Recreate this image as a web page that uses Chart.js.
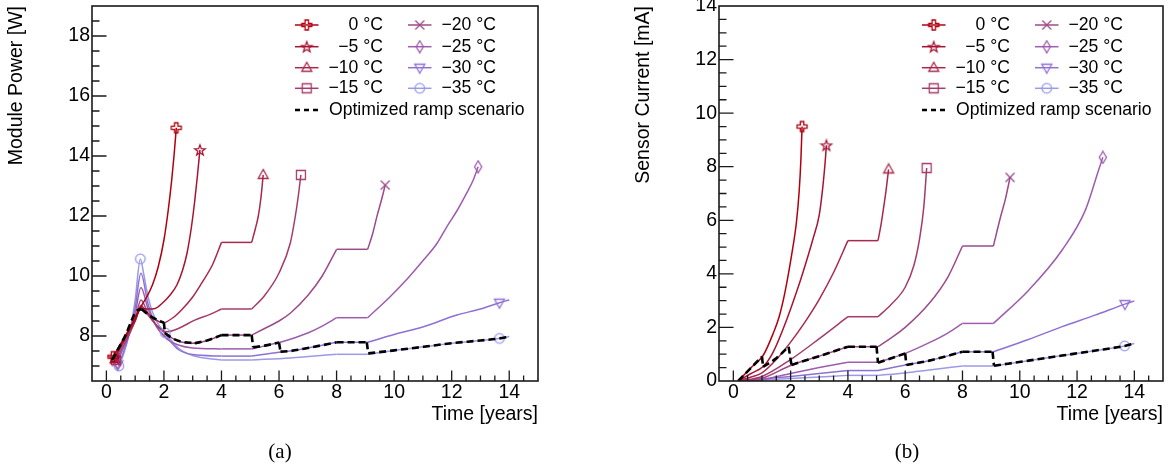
<!DOCTYPE html>
<html><head><meta charset="utf-8">
<script src="https://cdn.jsdelivr.net/npm/chart.js@4.4.1/dist/chart.umd.min.js"></script>
<style>
html,body{margin:0;padding:0;background:#fff;}
body{width:1169px;height:467px;position:relative;overflow:hidden;}
canvas{position:absolute;top:0;}
#cA{left:0;} #cB{left:627px;}
</style></head><body>
<canvas id="cA" width="590" height="467"></canvas>
<canvas id="cB" width="542" height="467"></canvas>
<script>
// ---------- categories & tick labels ----------
const tempLabels = ['0 °C','−5 °C','−10 °C','−15 °C','−20 °C','−25 °C','−30 °C','−35 °C'];
const rampLabel = 'Optimized ramp scenario';
const timeTicks = [0,2,4,6,8,10,12,14];
const powerTicks = [8,10,12,14,16,18];
const currentTicks = [0,2,4,6,8,10,12,14];

// ---------- (a) Module power [W] vs time [years] ----------
const powT0 = [0.23,0.5,0.8,1.0,1.2,1.4,1.6,1.8,2.0,2.15,2.27,2.35,2.43];
const powV0 = [7.31,7.75,8.25,8.6,8.98,9.3,9.7,10.3,11.2,12.2,13.2,14.0,14.94];
const powT5 = [0.28,0.5,0.8,1.0,1.2,1.45,1.7,1.95,2.2,2.45,2.65,2.8,2.95,3.07,3.17,3.25];
const powV5 = [7.27,7.7,8.2,8.55,8.92,8.9,8.92,9.1,9.35,9.7,10.2,10.75,11.6,12.5,13.4,14.2];
const powT10 = [0.3,0.5,0.8,1.0,1.2,1.45,1.7,1.97,2.3,2.61,3.0,3.31,3.7,4.0,5.05,5.17,5.28,5.37,5.45];
const powV10 = [7.23,7.65,8.15,8.5,8.95,8.75,8.55,8.44,8.6,8.87,9.3,9.76,10.4,11.12,11.12,11.55,12.0,12.6,13.37];
const powT15 = [0.33,0.5,0.8,1.0,1.2,1.45,1.75,2.09,2.5,3.07,3.6,4.0,5.05,5.5,6.0,6.39,6.55,6.66,6.76];
const powV15 = [7.2,7.6,8.1,8.5,9.02,8.7,8.35,8.14,8.25,8.53,8.72,8.9,8.9,9.35,10.1,11.09,11.9,12.6,13.37];
const powT20 = [0.35,0.5,0.8,1.0,1.2,1.45,1.75,2.1,2.3,2.6,3.07,3.5,4.0,5.05,5.5,6.0,6.39,7.0,7.5,8.0,9.08,9.25,9.4,9.55,9.69];
const powV20 = [7.15,7.5,8.05,8.55,9.2,8.75,8.35,8.05,7.92,7.8,7.76,7.85,8.03,8.03,8.25,8.5,8.76,9.35,10.0,10.89,10.89,11.4,11.98,12.5,13.03];
const powT25 = [0.38,0.5,0.8,1.0,1.2,1.45,1.75,2.1,2.5,3.0,4.0,5.05,6.0,6.39,7.0,7.5,8.0,9.08,9.86,10.5,11.02,11.5,11.83,12.2,12.52,12.75,12.92];
const powV25 = [7.1,7.4,8.1,8.75,9.62,8.9,8.3,7.9,7.7,7.6,7.57,7.57,7.78,7.89,8.1,8.33,8.61,8.61,9.31,9.95,10.53,11.1,11.64,12.2,12.76,13.2,13.64];
const powT30 = [0.4,0.55,0.8,1.0,1.2,1.45,1.75,2.1,2.5,3.0,4.0,5.05,6.0,6.39,7.0,8.0,9.08,10.0,11.02,12.18,13.0,13.66,14.0];
const powV30 = [7.05,7.35,8.1,8.95,10.09,9.05,8.3,7.95,7.55,7.38,7.33,7.33,7.46,7.5,7.6,7.79,7.79,8.05,8.31,8.7,8.9,9.11,9.2];
const powT35 = [0.43,0.6,0.8,1.0,1.18,1.3,1.45,1.6,1.8,2.05,2.5,3.0,4.0,5.05,6.39,8.0,9.08,10.0,11.02,12.0,13.0,13.66,14.0];
const powV35 = [7.0,7.4,8.1,9.2,10.57,10.05,9.3,8.8,8.4,8.1,7.6,7.35,7.2,7.2,7.27,7.39,7.39,7.52,7.64,7.76,7.85,7.92,7.98];
const rampPowT = [0.2,0.64,1.1,1.22,1.57,1.91,2.0,2.03,2.3,2.61,3.07,3.5,4.0,5.05,5.1,5.5,6.0,6.05,6.39,7.0,8.0,9.05,9.1,10.0,11.02,12.0,13.0,13.66,14.0];
const rampPowV = [7.2,7.98,8.87,8.89,8.64,8.48,8.45,8.1,7.92,7.81,7.76,7.85,8.03,8.03,7.62,7.68,7.78,7.48,7.5,7.6,7.79,7.79,7.42,7.52,7.64,7.76,7.85,7.92,7.98];

// ---------- (b) Sensor current [mA] vs time [years] ----------
const curT0 = [0.17,0.6,1.05,1.4,1.6,1.8,2.05,2.2,2.3,2.36,2.4];
const curV0 = [0,0.48,0.97,1.8,2.4,3.3,4.8,5.9,7.1,8.3,9.5];
const curT5 = [0.17,0.6,1.05,1.4,1.86,2.2,2.43,2.78,3.0,3.12,3.2,3.25];
const curV5 = [0,0.27,0.55,1.1,2.28,3.3,4.05,5.3,6.2,7.2,8.1,8.8];
const curT10 = [0.17,0.6,1.0,1.5,2.0,2.5,3.0,3.5,4.0,5.05,5.15,5.25,5.33,5.42];
const curV10 = [0,0.14,0.3,0.8,1.45,2.2,3.05,4.05,5.24,5.24,5.8,6.5,7.1,7.9];
const curT15 = [0.17,1.0,2.0,3.0,4.0,5.05,5.5,6.0,6.3,6.5,6.65,6.75];
const curV15 = [0,0.17,0.8,1.58,2.4,2.4,2.85,3.5,4.3,5.3,6.5,7.95];
const curT20 = [0.17,1.0,2.0,3.0,4.0,5.05,5.5,6.0,6.84,7.5,8.0,9.08,9.33,9.5,9.66];
const curV20 = [0,0.1,0.58,0.93,1.28,1.28,1.6,2.0,2.9,3.9,5.04,5.04,6.13,6.8,7.6];
const curT25 = [0.17,1.0,2.0,3.0,4.0,5.05,6.0,6.84,7.5,8.0,9.08,10.32,11.48,12.29,12.75,12.9];
const curV25 = [0,0.05,0.28,0.5,0.7,0.7,1.03,1.43,1.8,2.15,2.15,3.4,4.89,6.38,7.87,8.35];
const curT30 = [0.17,2.0,3.0,4.0,5.05,6.0,6.84,8.0,9.08,10.3,11.48,12.6,13.67,14.0];
const curV30 = [0,0.17,0.28,0.39,0.39,0.6,0.76,1.09,1.09,1.55,2.03,2.45,2.87,2.99];
const curT35 = [0.17,2.0,4.0,5.05,6.0,6.84,8.0,9.08,10.3,11.48,12.6,13.66,14.0];
const curV35 = [0,0.09,0.21,0.21,0.3,0.41,0.56,0.56,0.76,0.95,1.13,1.31,1.4];
const rampCurT = [0.17,1.0,1.04,1.5,1.93,2.03,3.0,4.0,5.0,5.05,6.0,6.04,6.84,8.0,9.05,9.1,10.3,11.48,12.6,13.66,14.0];
const rampCurV = [0,0.91,0.53,0.85,1.28,0.6,0.93,1.28,1.28,0.68,1.03,0.6,0.76,1.09,1.09,0.57,0.76,0.95,1.13,1.31,1.4];

// indices of points that carry a marker
const powMarkIdx = [[0,12],[0,15],[0,18],[0,18],[0,24],[0,26],[0,21],[0,4,9,21]];
const curMarkIdx = [[10],[11],[13],[11],[14],[15],[12],[11]];

// ---------- styles ----------
const FONT = '"Liberation Sans", Arial, Helvetica, sans-serif';
const tempColors = ['#b0000f','#a61432','#a8284e','#a33c6a','#9c4a88','#9d5cae','#8f70d4','#9a9ae8'];
const markerTypes = ['ocross','ostar','tri','sq','x','diamond','tridown','circle'];
const minorStep = 0.5, majorStep = 2;

function makeMarker(type, color) {
  const s = 14, m = 7;
  const c = document.createElement('canvas'); c.width = s; c.height = s;
  const g = c.getContext('2d'); g.strokeStyle = color; g.lineWidth = 1.3; g.lineJoin = 'miter';
  g.beginPath();
  if (type === 'ocross') {
    const a = 1.7, r = 5;
    const pts = [[-a,-r],[a,-r],[a,-a],[r,-a],[r,a],[a,a],[a,r],[-a,r],[-a,a],[-r,a],[-r,-a],[-a,-a]];
    pts.forEach((p,i)=> i? g.lineTo(m+p[0],m+p[1]) : g.moveTo(m+p[0],m+p[1])); g.closePath();
  } else if (type === 'ostar') {
    for (let i=0;i<10;i++){ const rr = i%2? 2.3:5.6; const ang = -Math.PI/2 + i*Math.PI/5;
      const x = m + rr*Math.cos(ang), y = m + 0.5 + rr*Math.sin(ang); i? g.lineTo(x,y):g.moveTo(x,y);} g.closePath();
  } else if (type === 'tri') {
    g.moveTo(m,m-5.5); g.lineTo(m+5,m+3.5); g.lineTo(m-5,m+3.5); g.closePath();
  } else if (type === 'tridown') {
    g.moveTo(m,m+5.5); g.lineTo(m+5,m-3.5); g.lineTo(m-5,m-3.5); g.closePath();
  } else if (type === 'sq') {
    g.rect(m-4.5,m-4.5,9,9);
  } else if (type === 'x') {
    g.moveTo(m-4.5,m-4.5); g.lineTo(m+4.5,m+4.5); g.moveTo(m+4.5,m-4.5); g.lineTo(m-4.5,m+4.5);
  } else if (type === 'diamond') {
    g.moveTo(m,m-6); g.lineTo(m+3.6,m); g.lineTo(m,m+6); g.lineTo(m-3.6,m); g.closePath();
  } else {
    g.arc(m,m,4.8,0,Math.PI*2);
  }
  g.stroke();
  return c;
}
const markerImgs = tempColors.map((c,i)=>makeMarker(markerTypes[i], c));

// split a curve into smooth pieces at flat stretches (and, for the ramp, at jumps)
function splitPieces(pts, atSignChange) {
  const pieces = []; let cur = [pts[0]];
  for (let k = 1; k < pts.length; k++) {
    cur.push(pts[k]);
    const next = pts[k+1];
    if (!next) break;
    const flatPrev = pts[k].y === pts[k-1].y, flatNext = next.y === pts[k].y;
    let brk = flatPrev !== flatNext;
    if (atSignChange && !brk) {
      const s1 = pts[k].y - pts[k-1].y, s2 = next.y - pts[k].y;
      const d1 = s1 / (pts[k].x - pts[k-1].x), d2 = s2 / (next.x - pts[k].x);
      if (s1 * s2 < 0 || Math.abs(d1) > 4 || Math.abs(d2) > 4) brk = true;
    }
    if (brk) { pieces.push(cur); cur = [pts[k]]; }
  }
  pieces.push(cur);
  return pieces;
}

function buildDatasets(tArrs, vArrs, markIdx, rampT, rampV) {
  const sets = [];
  tempLabels.forEach((lab, i) => {
    const pts = tArrs[i].map((t,k)=>({x:t, y:vArrs[i][k]}));
    splitPieces(pts, false).forEach(piece => sets.push({
      label: lab, data: piece, showLine: true, borderColor: tempColors[i],
      borderWidth: 1.5, cubicInterpolationMode: 'monotone', fill: false, order: 2,
      pointRadius: 0, pointHitRadius: 0
    }));
    sets.push({
      label: lab, data: markIdx[i].map(k => pts[k]), showLine: false,
      pointStyle: markerImgs[i], pointRadius: 5, pointHitRadius: 0, order: 1
    });
  });
  const rpts = rampT.map((t,k)=>({x:t, y:rampV[k]}));
  splitPieces(rpts, true).forEach(piece => sets.push({
    label: rampLabel, data: piece, showLine: true, borderColor: '#000', borderWidth: 2.6,
    borderDash: [7,4], borderCapStyle: 'butt', cubicInterpolationMode: 'monotone',
    pointRadius: 0, pointHitRadius: 0, order: 0
  }));
  return sets;
}

const decoPlugin = {
  id: 'rootDeco',
  afterDatasetsDraw(chart) {
    const ctx = chart.ctx, a = chart.chartArea, xs = chart.scales.x, ys = chart.scales.y;
    ctx.save();
    ctx.strokeStyle = '#1a1a1a'; ctx.lineWidth = 1.3; ctx.beginPath();
    for (let v = Math.ceil(xs.min/minorStep)*minorStep; v <= xs.max + 1e-9; v += minorStep) {
      const px = xs.getPixelForValue(v);
      if (px <= a.left + 1 || px >= a.right - 1) continue;
      const major = Math.abs(v/majorStep - Math.round(v/majorStep)) < 1e-6;
      ctx.moveTo(px, a.bottom); ctx.lineTo(px, a.bottom - (major ? 10.5 : 5.5));
    }
    for (let v = Math.ceil(ys.min/minorStep)*minorStep; v <= ys.max + 1e-9; v += minorStep) {
      const py = ys.getPixelForValue(v);
      if (py >= a.bottom - 1 || py <= a.top + 1) continue;
      const major = Math.abs(v/majorStep - Math.round(v/majorStep)) < 1e-6;
      ctx.moveTo(a.left, py); ctx.lineTo(a.left + (major ? 14.5 : 7.5), py);
    }
    ctx.stroke();
    ctx.lineWidth = 1.6;
    ctx.strokeRect(a.left, a.top, a.right - a.left, a.bottom - a.top);
    ctx.restore();
  },
  afterDraw(chart, args, opts) {
    const ctx = chart.ctx, a = chart.chartArea;
    ctx.save();
    ctx.font = '17.6px ' + FONT; ctx.textBaseline = 'middle'; ctx.fillStyle = '#000';
    const rows = [19, 40.7, 61.7, 82.3];
    for (let i = 0; i < 8; i++) {
      const col = i < 4 ? 0 : 1, y = a.top + rows[i % 4];
      const lx0 = a.left + (col ? 316 : 203), lx1 = lx0 + 23.5;
      ctx.strokeStyle = tempColors[i]; ctx.lineWidth = 1.5; ctx.setLineDash([]);
      ctx.beginPath(); ctx.moveTo(lx0, y); ctx.lineTo(lx1, y); ctx.stroke();
      const img = markerImgs[i];
      ctx.drawImage(img, (lx0+lx1)/2 - img.width/2, y - img.height/2);
      ctx.textAlign = 'right';
      ctx.fillText(tempLabels[i], a.left + (col ? 404 : 291), y);
    }
    const yr = a.top + 104;
    ctx.strokeStyle = '#000'; ctx.lineWidth = 2.6; ctx.setLineDash([5,4]);
    ctx.beginPath(); ctx.moveTo(a.left + 203, yr); ctx.lineTo(a.left + 227, yr); ctx.stroke();
    ctx.setLineDash([]);
    ctx.textAlign = 'left';
    ctx.fillText(rampLabel, a.left + 237, yr);
    ctx.font = '21px "Liberation Serif", "DejaVu Serif", serif';
    ctx.textAlign = 'center';
    ctx.fillText(opts.panel, 280, 452);
    ctx.restore();
  }
};

function makeChart(id, datasets, yMin, yMax, yTicks, yTitle, panel, padRight) {
  const tickFont = {family: FONT, size: 19.5};
  return new Chart(document.getElementById(id), {
    type: 'scatter',
    data: {datasets},
    options: {
      responsive: false, animation: false, events: [],
      layout: {padding: {top: 6, right: padRight, bottom: 0, left: 0}},
      plugins: {legend: {display: false}, tooltip: {enabled: false}, rootDeco: {panel}},
      scales: {
        x: {
          type: 'linear', min: -0.5, max: 15,
          grid: {display: false, drawTicks: false}, border: {display: false},
          afterBuildTicks: s => { s.ticks = timeTicks.map(v => ({value: v})); },
          afterFit: s => { s.height = 86; s.paddingLeft = 0; s.paddingRight = 0; },
          ticks: {padding: 0, color: '#000', font: tickFont, maxRotation: 0, autoSkip: false, callback: v => String(v)},
          title: {display: true, text: 'Time [years]', align: 'end', color: '#000', font: tickFont, padding: {top: 0, bottom: 41}}
        },
        y: {
          type: 'linear', min: yMin, max: yMax,
          grid: {display: false, drawTicks: false}, border: {display: false},
          afterBuildTicks: s => { s.ticks = yTicks.map(v => ({value: v})); },
          afterFit: s => { s.width = 92; s.paddingTop = 0; s.paddingBottom = 0; },
          ticks: {padding: 2, color: '#000', font: tickFont, autoSkip: false, callback: v => String(v)},
          title: {display: true, text: yTitle, align: 'end', color: '#000', font: tickFont, padding: {top: 5, bottom: 0}}
        }
      }
    },
    plugins: [decoPlugin]
  });
}

makeChart('cA',
  buildDatasets([powT0,powT5,powT10,powT15,powT20,powT25,powT30,powT35],
                [powV0,powV5,powV10,powV15,powV20,powV25,powV30,powV35], powMarkIdx, rampPowT, rampPowV),
  6.5, 19, powerTicks, 'Module Power [W]', '(a)', 52);
makeChart('cB',
  buildDatasets([curT0,curT5,curT10,curT15,curT20,curT25,curT30,curT35],
                [curV0,curV5,curV10,curV15,curV20,curV25,curV30,curV35], curMarkIdx, rampCurT, rampCurV),
  0, 14, currentTicks, 'Sensor Current [mA]', '(b)', 5);
</script></body></html>
